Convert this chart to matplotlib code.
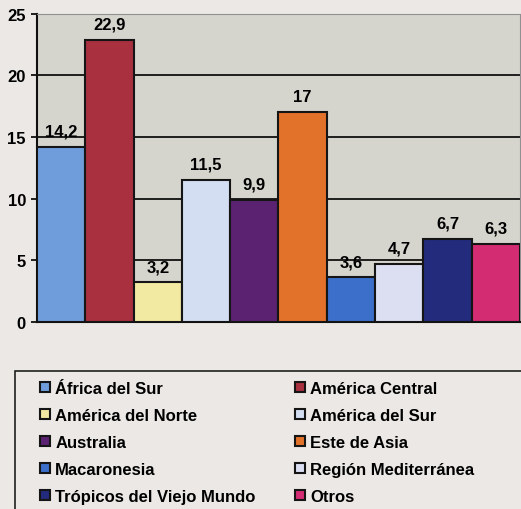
import matplotlib.pyplot as plt
from matplotlib.patches import Rectangle

regions = ["África del Sur", "América Central", "América del Norte", "América del Sur",
           "Australia", "Este de Asia", "Macaronesia", "Región Mediterránea",
           "Trópicos del Viejo Mundo", "Otros"]
values = [14.2, 22.9, 3.2, 11.5, 9.9, 17, 3.6, 4.7, 6.7, 6.3]
colors = ["#6f9ddb", "#a8303f", "#f2e9a2", "#d3def2", "#5b2272",
          "#e2712a", "#3b6fca", "#dcdff2", "#232b7c", "#d42c73"]
yticks = [0, 5, 10, 15, 20, 25]

plt.rcParams['font.family'] = ['Liberation Sans', 'DejaVu Sans']
plt.rcParams['font.weight'] = 'bold'

fig = plt.figure(figsize=(5.21, 5.10), dpi=100, facecolor='#ebe8e5')
ax = fig.add_axes([0.071, 0.367, 0.927, 0.604])
ax.set_facecolor('#d5d5cd')

bars = ax.bar(range(len(values)), values, width=1.0, color=colors,
              edgecolor='#151515', linewidth=1.5, zorder=3)
ax.set_xlim(-0.5, len(values) - 0.5)
ax.set_ylim(0, 25)
ax.set_yticks(yticks)
ax.set_yticklabels([str(t) for t in yticks], fontsize=12, fontweight='bold')
ax.set_xticks([])
ax.grid(axis='y', color='#101010', linewidth=1.3, zorder=0)
ax.tick_params(axis='y', length=4, width=1.3, color='#101010', pad=4)

for s in ['top', 'right']:
    ax.spines[s].set_color('#909090')
    ax.spines[s].set_linewidth(0.8)
for s in ['left', 'bottom']:
    ax.spines[s].set_color('#101010')
    ax.spines[s].set_linewidth(1.5)

for i, v in enumerate(values):
    txt = f"{v:g}".replace('.', ',')
    ax.annotate(txt, (i, v), xytext=(0, 6), textcoords='offset points',
                ha='center', va='bottom', fontsize=12, fontweight='bold')

# legend box, filled row by row like the original
fig.patches.append(Rectangle((0.029, -0.02), 1.0, 0.290, transform=fig.transFigure,
                             facecolor='none', edgecolor='#202020', linewidth=1.2))
order = list(range(0, len(values), 2)) + list(range(1, len(values), 2))
leg = fig.legend([bars[i] for i in order], [regions[i] for i in order],
                 loc='upper left', bbox_to_anchor=(0.077, 0.251),
                 ncol=2, frameon=False, fontsize=12, handlelength=0.6, handleheight=0.6,
                 handletextpad=0.3, columnspacing=2.4, labelspacing=0.72,
                 borderaxespad=0, borderpad=0)
for t in leg.get_texts():
    t.set_fontweight('bold')

plt.savefig('out.png', dpi=100, facecolor=fig.get_facecolor())
